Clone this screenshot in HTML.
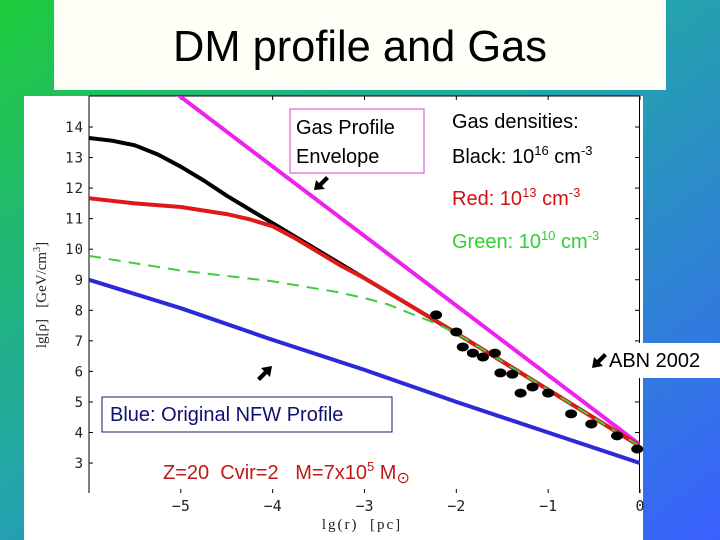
<!DOCTYPE html>
<html><head><meta charset="utf-8"><style>
html,body{margin:0;padding:0;width:720px;height:540px;overflow:hidden}
svg{display:block}
text{white-space:pre}
</style></head><body>
<svg id="s" width="720" height="540" viewBox="0 0 720 540" font-family="Liberation Sans, sans-serif">
<defs>
<linearGradient id="bg" x1="0" y1="0" x2="1" y2="1">
<stop offset="0" stop-color="#1fcc3a"/><stop offset="0.45" stop-color="#22a6a8"/><stop offset="1" stop-color="#3a60ff"/>
</linearGradient>
</defs>
<rect width="720" height="540" fill="url(#bg)"/>
<rect x="54" y="0" width="612" height="90" fill="#fffff8"/>
<text x="360" y="61" text-anchor="middle" font-size="44" textLength="374" lengthAdjust="spacingAndGlyphs" fill="#000">DM profile and Gas</text>
<rect x="24" y="96" width="619" height="444" fill="#fff"/>
<g id="axes"></g>
<g id="series"></g>
<text transform="translate(46,295) rotate(-90)" text-anchor="middle" font-family="Liberation Serif, serif" font-size="15" fill="#222">lg[ρ]   [GeV/cm<tspan font-size="10" dy="-6">3</tspan><tspan dy="6">]</tspan></text>
<text x="362" y="529" text-anchor="middle" font-family="Liberation Serif, serif" font-size="15" letter-spacing="2" fill="#222">lg(r)  [pc]</text>
<rect x="290" y="109" width="134" height="64" fill="none" stroke="#d040d0" stroke-width="1"/>
<text x="296" y="134" font-size="20" fill="#000">Gas Profile<tspan x="296" y="163">Envelope</tspan></text>
<polygon points="314,190 316,180 319,183 326,176 329,179 322,186 325,189" fill="#000"/>
<text x="452" y="128" font-size="20" fill="#000">Gas densities:</text>
<text x="452" y="163" font-size="20" fill="#000">Black: 10<tspan font-size="13" dy="-8">16</tspan><tspan dy="8"> cm</tspan><tspan font-size="13" dy="-8">-3</tspan></text>
<text x="452" y="205" font-size="20" fill="#d01010">Red: 10<tspan font-size="13" dy="-8">13</tspan><tspan dy="8"> cm</tspan><tspan font-size="13" dy="-8">-3</tspan></text>
<text x="452" y="248" font-size="20" fill="#30d030">Green: 10<tspan font-size="13" dy="-8">10</tspan><tspan dy="8"> cm</tspan><tspan font-size="13" dy="-8">-3</tspan></text>
<rect x="590" y="343" width="130" height="35" fill="#fff"/>
<polygon points="592,368 594,357 597,360 604,353 607,356 600,363 603,366" fill="#000"/>
<text x="609" y="367" font-size="20" fill="#000">ABN 2002</text>
<polygon points="272,366 261,368 264,371 257,378 260,381 267,374 270,377" fill="#000"/>
<rect x="102" y="397" width="290" height="35" fill="#fff" stroke="#1a1a6a" stroke-width="1"/>
<text x="110" y="421" font-size="20" fill="#101070">Blue: Original NFW Profile</text>
<text x="163" y="479" font-size="20" fill="#c01818">Z=20  Cvir=2   M=7x10<tspan font-size="13" dy="-8">5</tspan><tspan dy="8"> M</tspan><tspan font-size="16" dy="4">⊙</tspan></text>
</svg>
<script>
const xTicks=[-5,-4,-3,-2,-1,0];
const yTicks=[3,4,5,6,7,8,9,10,11,12,13,14];
const blackX=[-6,-5.75,-5.5,-5.25,-5,-4.75,-4.5,-4.25,-4,-3.75,-3.5,-3.25,-3,-2,-1,0];
const blackY=[13.64,13.55,13.4,13.1,12.7,12.25,11.75,11.3,10.85,10.4,9.95,9.5,9.05,7.25,5.4,3.55];
const redX=[-6,-5.5,-5,-4.5,-4.25,-4,-3.75,-3.5,-3.25,-3,-2,-1,0];
const redY=[11.67,11.5,11.38,11.15,10.98,10.75,10.35,9.9,9.45,9.05,7.25,5.4,3.55];
const greenX=[-6,-5,-4,-3.3,-3,-2.75,-2.5,-2.25,-2,-1,0];
const greenY=[9.78,9.3,8.95,8.6,8.4,8.2,7.9,7.6,7.25,5.4,3.55];
const blueX=[-6,-5,-4,-3,-2,-1,0];
const blueY=[9.0,8.07,7.03,6.05,5.0,4.0,3.0];
const magX=[-5.05,0];
const magY=[15.1,3.6];
const abnX=[-2.22,-2.0,-1.93,-1.82,-1.71,-1.58,-1.52,-1.39,-1.3,-1.17,-1.0,-0.75,-0.53,-0.25,-0.03];
const abnY=[7.85,7.29,6.8,6.6,6.47,6.6,5.95,5.91,5.29,5.49,5.29,4.61,4.28,3.89,3.46];
const NS='http://www.w3.org/2000/svg';
const X=v=>89+(v+6)*91.83;
const Y=v=>127+(14-v)*30.55;
const ax=document.getElementById('axes'),sr=document.getElementById('series');
function mk(tag,attrs,parent){const e=document.createElementNS(NS,tag);for(const k in attrs)e.setAttribute(k,attrs[k]);parent.appendChild(e);return e;}
const plotTop=96,plotBot=493;
let l=mk('line',{x1:89,y1:plotTop,x2:89,y2:plotBot,stroke:'#000','stroke-width':1},ax);


l=mk('line',{x1:639.5,y1:plotTop,x2:639.5,y2:plotBot,stroke:'#000','stroke-width':1},ax);


l=mk('line',{x1:89,y1:plotTop,x2:640,y2:plotTop,stroke:'#000','stroke-width':1},ax);


xTicks.forEach(t=>{
 const x=X(t);
 let a=mk('line',{x1:x,y1:plotBot,x2:x,y2:plotBot-4,stroke:'#000'},ax);
 
 
 a=mk('line',{x1:x,y1:plotTop,x2:x,y2:plotTop+4,stroke:'#000'},ax);
 
 
 const tx=mk('text',{x:x,y:511,'text-anchor':'middle','font-size':15,'font-family':'DejaVu Sans Mono, monospace',fill:'#222'},ax);
 tx.textContent=(t<0?'\u2212':'')+Math.abs(t);
 
 
});
yTicks.forEach(t=>{
 const y=Y(t);
 let a=mk('line',{x1:89,y1:y,x2:93,y2:y,stroke:'#000'},ax);
 
 
 a=mk('line',{x1:639,y1:y,x2:635,y2:y,stroke:'#000'},ax);
 
 
 const tx=mk('text',{x:84,y:y+5,'text-anchor':'end','font-size':14,'font-family':'DejaVu Sans Mono, monospace','letter-spacing':'1',fill:'#222'},ax);
 tx.textContent=t;
 
 
});
const cp=mk('clipPath',{id:'cp'},sr);
mk('rect',{x:89,y:plotTop,width:551,height:plotBot-plotTop},cp);
function line(xs,ys,col,w,dash,name){
 const d=xs.map((v,i)=>(i?'L':'M')+X(v).toFixed(1)+','+Y(ys[i]).toFixed(1)).join(' ');
 const p=mk('path',{d:d,fill:'none',stroke:col,'stroke-width':w,'stroke-linejoin':'round','clip-path':'url(#cp)'},sr);
 if(dash)p.setAttribute('stroke-dasharray',dash);
 
 
}
line(magX,magY,'#ee22ee',4,null,'envelope-line');
line(blueX,blueY,'#2a2ad8',4,null,'nfw-line');
line(blackX,blackY,'#000',4,null,'black-gas-line');
line(redX,redY,'#e01818',4,null,'red-gas-line');
line(greenX,greenY,'#40cc40',2,'12,8','green-gas-line');
abnX.forEach((v,i)=>{
 const e=mk('ellipse',{cx:X(v),cy:Y(abnY[i]),rx:6,ry:4.5,fill:'#000'},sr);
 
 
});
</script>
</body></html>
